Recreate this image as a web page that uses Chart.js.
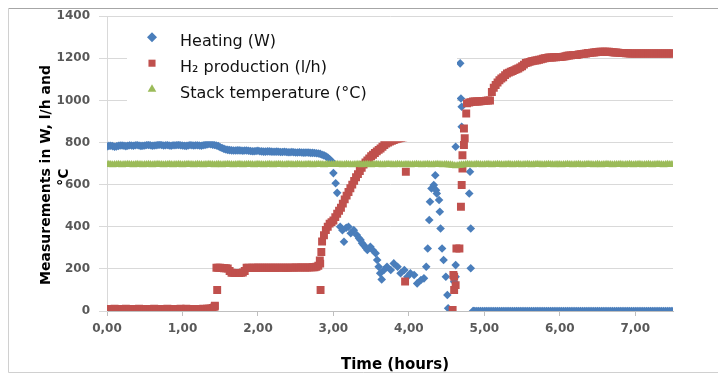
<!DOCTYPE html>
<html>
<head>
<meta charset="utf-8">
<script src="https://cdn.jsdelivr.net/npm/chart.js@4.4.0/dist/chart.umd.min.js"></script>
<style>
  body { margin: 0; background: #fff; }
  canvas { display: block; }
</style>
</head>
<body>
<canvas id="stack-chart" width="718" height="374"></canvas>
<script>
// Sampling grid in hours (one reading every 1.5 minutes), 20 per line = half an hour
const hours = [
  0.000, 0.025, 0.050, 0.075, 0.100, 0.125, 0.150, 0.175, 0.200, 0.225, 0.250, 0.275, 0.300, 0.325, 0.350, 0.375, 0.400, 0.425, 0.450, 0.475,
  0.500, 0.525, 0.550, 0.575, 0.600, 0.625, 0.650, 0.675, 0.700, 0.725, 0.750, 0.775, 0.800, 0.825, 0.850, 0.875, 0.900, 0.925, 0.950, 0.975,
  1.000, 1.025, 1.050, 1.075, 1.100, 1.125, 1.150, 1.175, 1.200, 1.225, 1.250, 1.275, 1.300, 1.325, 1.350, 1.375, 1.400, 1.425, 1.450, 1.475,
  1.500, 1.525, 1.550, 1.575, 1.600, 1.625, 1.650, 1.675, 1.700, 1.725, 1.750, 1.775, 1.800, 1.825, 1.850, 1.875, 1.900, 1.925, 1.950, 1.975,
  2.000, 2.025, 2.050, 2.075, 2.100, 2.125, 2.150, 2.175, 2.200, 2.225, 2.250, 2.275, 2.300, 2.325, 2.350, 2.375, 2.400, 2.425, 2.450, 2.475,
  2.500, 2.525, 2.550, 2.575, 2.600, 2.625, 2.650, 2.675, 2.700, 2.725, 2.750, 2.775, 2.800, 2.825, 2.850, 2.875, 2.900, 2.925, 2.950, 2.975,
  3.000, 3.025, 3.050, 3.075, 3.100, 3.125, 3.150, 3.175, 3.200, 3.225, 3.250, 3.275, 3.300, 3.325, 3.350, 3.375, 3.400, 3.425, 3.450, 3.475,
  3.500, 3.525, 3.550, 3.575, 3.600, 3.625, 3.650, 3.675, 3.700, 3.725, 3.750, 3.775, 3.800, 3.825, 3.850, 3.875, 3.900, 3.925, 3.950, 3.975,
  4.000, 4.025, 4.050, 4.075, 4.100, 4.125, 4.150, 4.175, 4.200, 4.225, 4.250, 4.275, 4.300, 4.325, 4.350, 4.375, 4.400, 4.425, 4.450, 4.475,
  4.500, 4.525, 4.550, 4.575, 4.600, 4.625, 4.650, 4.675, 4.700, 4.725, 4.750, 4.775, 4.800, 4.825, 4.850, 4.875, 4.900, 4.925, 4.950, 4.975,
  5.000, 5.025, 5.050, 5.075, 5.100, 5.125, 5.150, 5.175, 5.200, 5.225, 5.250, 5.275, 5.300, 5.325, 5.350, 5.375, 5.400, 5.425, 5.450, 5.475,
  5.500, 5.525, 5.550, 5.575, 5.600, 5.625, 5.650, 5.675, 5.700, 5.725, 5.750, 5.775, 5.800, 5.825, 5.850, 5.875, 5.900, 5.925, 5.950, 5.975,
  6.000, 6.025, 6.050, 6.075, 6.100, 6.125, 6.150, 6.175, 6.200, 6.225, 6.250, 6.275, 6.300, 6.325, 6.350, 6.375, 6.400, 6.425, 6.450, 6.475,
  6.500, 6.525, 6.550, 6.575, 6.600, 6.625, 6.650, 6.675, 6.700, 6.725, 6.750, 6.775, 6.800, 6.825, 6.850, 6.875, 6.900, 6.925, 6.950, 6.975,
  7.000, 7.025, 7.050, 7.075, 7.100, 7.125, 7.150, 7.175, 7.200, 7.225, 7.250, 7.275, 7.300, 7.325, 7.350, 7.375, 7.400, 7.425, 7.450, 7.475,
  7.500
];

// Heating power (W) on the grid; null where only the extra readings exist
const heatingW = [
  782, 784, 785, 783, 780, 782, 784, 786, 786, 785, 783, 785, 787, 786, 785, 787, 788, 786, 784, 785,
  786, 788, 789, 787, 785, 786, 787, 789, 790, 788, 786, 787, 788, 786, 785, 787, 787, 788, 789, 787,
  786, 785, 784, 786, 788, 787, 786, 787, 787, 786, 785, 787, 789, 791, 793, 792, 790, 788, 786, 783,
  778, 774, 770, 767, 765, 764, 763, 762, 762, 763, 763, 762, 761, 762, 762, 761, 760, 759, 759, 760,
  761, 759, 758, 757, 757, 758, 758, 757, 756, 756, 757, 756, 755, 755, 756, 755, 754, 754, 755, 754,
  753, 753, 754, 753, 752, 752, 753, 752, 751, 751, 750, 749, 748, 746, 742, 739, 735, 729, 720, 712,
  null, null, null, null, null, null, null, null, null, null, null, null, null, null, null, null, null, null, null, null,
  null, null, null, null, null, null, null, null, null, null, null, null, null, null, null, null, null, null, null, null,
  null, null, null, null, null, null, null, null, null, null, null, null, null, null, null, null, null, null, null, null,
  null, null, null, null, null, null, null, null, null, null, null, null, null, null, 0, 0, 0, 0, 0, 0,
  0, 0, 0, 0, 0, 0, 0, 0, 0, 0, 0, 0, 0, 0, 0, 0, 0, 0, 0, 0,
  0, 0, 0, 0, 0, 0, 0, 0, 0, 0, 0, 0, 0, 0, 0, 0, 0, 0, 0, 0,
  0, 0, 0, 0, 0, 0, 0, 0, 0, 0, 0, 0, 0, 0, 0, 0, 0, 0, 0, 0,
  0, 0, 0, 0, 0, 0, 0, 0, 0, 0, 0, 0, 0, 0, 0, 0, 0, 0, 0, 0,
  0, 0, 0, 0, 0, 0, 0, 0, 0, 0, 0, 0, 0, 0, 0, 0, 0, 0, 0, 0,
  0
];

// H2 production (l/h) on the grid
const h2Flow = [
  10, 9, 10, 10, 11, 10, 10, 9, 10, 10, 11, 10, 10, 10, 9, 10, 10, 11, 10, 10,
  10, 10, 9, 10, 10, 11, 10, 10, 9, 10, 10, 10, 11, 10, 10, 9, 10, 10, 10, 11,
  10, 10, 11, 10, 10, 10, 9, 10, 10, 10, 10, 11, 10, 11, 11, 12, 15, 20, 205, 205,
  205, 204, 203, 203, 202, 190, 182, 181, 180, 180, 180, 181, 183, 190, 205, 205, 204, 205, 205, 205,
  205, 205, 206, 206, 205, 205, 205, 206, 206, 205, 205, 206, 206, 206, 205, 205, 206, 206, 206, 206,
  207, 206, 206, 207, 207, 206, 206, 207, 207, 208, 208, 210, 215, 225, 330, 360, 385, 400, 415, 422,
  430, 446, 462, 476, 490, 510, 530, 548, 565, 583, 600, 618, 635, 650, 665, 680, 695, 705, 715, 725,
  735, 742, 750, 758, 765, 772, 780, 788, 795, 800, 805, 808, 812, 815, 818, 820, 822, 825, 828, 830,
  832, 834, 836, 838, 840, 842, 843, 845, 846, 848, 850, 851, 852, 854, 855, 857, 858, 859, 860, 861,
  862, null, null, null, null, null, null, null, null, null, null, null, 990, 992, 995, 995, 995, 995, 996, 997,
  998, 999, 1000, 1000, 1040, 1060, 1073, 1085, 1096, 1104, 1110, 1120, 1128, 1132, 1136, 1140, 1144, 1148, 1152, 1157,
  1162, 1170, 1178, 1180, 1183, 1186, 1188, 1190, 1191, 1193, 1195, 1198, 1200, 1202, 1204, 1204, 1204, 1205, 1205, 1206,
  1206, 1207, 1208, 1210, 1212, 1213, 1214, 1215, 1215, 1216, 1218, 1220, 1221, 1222, 1223, 1225, 1226, 1227, 1228, 1229,
  1230, 1231, 1231, 1231, 1231, 1231, 1231, 1230, 1229, 1228, 1228, 1227, 1226, 1225, 1225, 1224, 1224, 1223, 1223, 1223,
  1223, 1223, 1223, 1223, 1223, 1223, 1223, 1223, 1223, 1223, 1223, 1223, 1223, 1223, 1223, 1223, 1223, 1223, 1223, 1223,
  1223
];

// Stack temperature (°C) on the grid
const stackTemp = [
  695, 696, 695, 694, 695, 695, 696, 695, 694, 695, 695, 696, 695, 695, 694, 695, 696, 695, 695, 694,
  695, 695, 696, 695, 694, 695, 695, 696, 695, 695, 694, 695, 695, 696, 695, 694, 695, 695, 696, 695,
  694, 695, 695, 696, 695, 695, 694, 695, 696, 695, 695, 694, 695, 695, 696, 695, 695, 694, 695, 696,
  695, 694, 695, 695, 696, 695, 695, 694, 695, 695, 696, 695, 694, 695, 695, 696, 695, 695, 694, 695,
  696, 695, 695, 694, 695, 695, 696, 695, 694, 695, 695, 696, 695, 695, 694, 695, 696, 695, 695, 694,
  695, 696, 695, 695, 694, 695, 695, 696, 695, 694, 695, 695, 696, 695, 695, 694, 695, 696, 695, 695,
  695, 695, 696, 695, 695, 694, 695, 696, 695, 695, 694, 695, 695, 696, 695, 694, 695, 695, 696, 695,
  694, 695, 695, 696, 695, 695, 694, 695, 695, 696, 695, 695, 694, 695, 696, 695, 695, 694, 695, 695,
  695, 694, 695, 695, 696, 695, 695, 694, 695, 695, 696, 695, 694, 695, 695, 696, 695, 695, 694, 695,
  695, 694, 693, 692, 690, 689, 690, 692, 693, 694, 695, 696, 695, 695, 694, 695, 696, 695, 695, 694,
  695, 695, 696, 695, 694, 695, 695, 696, 695, 695, 694, 695, 695, 696, 695, 694, 695, 695, 696, 695,
  694, 695, 695, 696, 695, 694, 695, 695, 696, 695, 695, 694, 695, 695, 696, 695, 695, 694, 695, 695,
  695, 694, 695, 695, 696, 695, 695, 694, 695, 695, 696, 695, 694, 695, 695, 696, 695, 695, 694, 695,
  696, 695, 694, 695, 695, 696, 695, 695, 694, 695, 695, 695, 696, 695, 694, 695, 695, 696, 695, 694,
  695, 695, 696, 695, 694, 695, 695, 696, 695, 694, 695, 695, 696, 695, 695, 694, 695, 696, 695, 695,
  695
];

// Extra readings in the unstable part of the run
const heatingExtraHours = [
  3.00, 3.03, 3.05, 3.09, 3.12, 3.14, 3.17, 3.20, 3.23, 3.27,
  3.31, 3.34, 3.36, 3.38, 3.40, 3.43, 3.45, 3.49, 3.52, 3.56,
  3.58, 3.60, 3.62, 3.64, 3.67, 3.71, 3.76, 3.80, 3.85, 3.89,
  3.94, 3.98, 4.02, 4.07, 4.11, 4.16, 4.20, 4.23, 4.25, 4.27,
  4.28, 4.30, 4.33, 4.35, 4.36, 4.37, 4.40, 4.41, 4.42, 4.44,
  4.46, 4.49, 4.51, 4.52, 4.56, 4.60, 4.62, 4.62, 4.62, 4.68,
  4.69, 4.70, 4.70, 4.80, 4.81, 4.82, 4.82, 4.86
];
const heatingExtraW = [
  655, 607, 561, 400, 384, 329, 395, 400, 369, 384,
  361, 345, 337, 322, 313, 300, 290, 305, 290, 274,
  242, 210, 179, 150, 195, 210, 195, 226, 210, 179,
  195, 163, 179, 171, 131, 147, 155, 210, 297, 432,
  519, 582, 598, 645, 574, 558, 527, 471, 392, 297,
  242, 163, 76, 13, 0, 139, 163, 218, 780, 1176,
  1009, 970, 875, 558, 661, 392, 203, 0
];
const h2ExtraHours = [
  1.43, 1.46, 2.82, 2.83, 2.84, 3.95, 3.96, 4.58, 4.59, 4.60,
  4.60, 4.62, 4.63, 4.67, 4.69, 4.70, 4.71, 4.71, 4.73, 4.74,
  4.73, 4.76, 4.77
];
const h2ExtraFlow = [
  25, 100, 240, 100, 280, 140, 661, 5, 171, 100,
  163, 123, 297, 297, 495, 598, 677, 740, 788, 820,
  867, 938, 986
];

const seriesLabels = ['Heating (W)', 'H\u2082 production (l/h)', 'Stack temperature (\u00b0C)'];
const seriesColors = ['#4a7ebb', '#c0504d', '#9bbb59'];
const seriesShapes = ['rectRot', 'rect', 'triangle'];

function toPoints(xs, ys) {
  return xs.map((x, i) => ({ x: x, y: ys[i] }));
}

const FONT = '"DejaVu Sans", sans-serif';

// frame, legend box and axis titles drawn by hand like the Excel original
const decorations = {
  id: 'decorations',
  beforeDraw(chart) {
    const ctx = chart.ctx;
    ctx.save();
    ctx.fillStyle = '#fff';
    ctx.fillRect(0, 0, chart.width, chart.height);
    ctx.strokeStyle = '#a6a6a6';
    ctx.lineWidth = 1;
    ctx.beginPath();
    ctx.moveTo(8, 8.5); ctx.lineTo(chart.width, 8.5);
    ctx.stroke();
    ctx.strokeStyle = '#d0d0d0';
    ctx.beginPath();
    ctx.moveTo(8.5, 8); ctx.lineTo(8.5, 372.5); ctx.lineTo(chart.width, 372.5);
    ctx.stroke();
    ctx.restore();
  },
  afterDatasetsDraw(chart) {
    const ctx = chart.ctx;
    const area = chart.chartArea;
    const bx = area.left + 20, by = area.top + 2;
    ctx.save();
    ctx.fillStyle = '#fff';
    ctx.fillRect(bx, by, 330, 123);
    ctx.font = '16px ' + FONT;
    ctx.textBaseline = 'middle';
    ctx.textAlign = 'left';
    for (let i = 0; i < seriesLabels.length; i++) {
      const my = by + 19 + i * 26;
      ctx.fillStyle = seriesColors[i];
      Chart.helpers.drawPoint(ctx, { pointStyle: seriesShapes[i], radius: 5, rotation: 0, borderWidth: 0 }, bx + 25, my);
      ctx.fillStyle = '#111';
      ctx.fillText(seriesLabels[i], bx + 53, my + 5);
    }
    ctx.restore();
  },
  afterDraw(chart) {
    const ctx = chart.ctx;
    ctx.save();
    ctx.fillStyle = '#000';
    ctx.textAlign = 'center';
    ctx.textBaseline = 'middle';
    ctx.font = 'bold 14px ' + FONT;
    ctx.translate(46, 175);
    ctx.rotate(-Math.PI / 2);
    ctx.fillText('Measurements in W, l/h and', 0, 0);
    ctx.restore();
    ctx.save();
    ctx.fillStyle = '#000';
    ctx.textAlign = 'center';
    ctx.textBaseline = 'middle';
    ctx.font = 'bold 14px ' + FONT;
    ctx.translate(64, 177);
    ctx.rotate(-Math.PI / 2);
    ctx.fillText('\u00b0C', 0, 0);
    ctx.restore();
    ctx.save();
    ctx.fillStyle = '#000';
    ctx.textAlign = 'center';
    ctx.textBaseline = 'alphabetic';
    ctx.font = 'bold 15px ' + FONT;
    ctx.fillText('Time (hours)', 395, 369);
    ctx.restore();
  }
};

const ctx = document.getElementById('stack-chart').getContext('2d');

const stackChart = new Chart(ctx, {
  type: 'scatter',
  data: {
    datasets: [{
      label: seriesLabels[0],
      data: toPoints(hours, heatingW).concat(toPoints(heatingExtraHours, heatingExtraW)),
      pointStyle: 'rectRot',
      pointRadius: 4.3,
      backgroundColor: seriesColors[0],
      borderColor: seriesColors[0],
      borderWidth: 0,
      order: 3
    }, {
      label: seriesLabels[1],
      data: toPoints(hours, h2Flow).concat(toPoints(h2ExtraHours, h2ExtraFlow)),
      pointStyle: 'rect',
      pointRadius: 5.6,
      backgroundColor: seriesColors[1],
      borderColor: seriesColors[1],
      borderWidth: 0,
      order: 2
    }, {
      label: seriesLabels[2],
      data: toPoints(hours, stackTemp),
      pointStyle: 'triangle',
      pointRadius: 4.7,
      backgroundColor: seriesColors[2],
      borderColor: seriesColors[2],
      borderWidth: 0,
      order: 1
    }]
  },
  options: {
    responsive: false,
    animation: false,
    layout: { padding: { left: 0, right: 45, top: 16, bottom: 0 } },
    plugins: {
      legend: { display: false },
      tooltip: { enabled: false }
    },
    scales: {
      x: {
        type: 'linear',
        min: 0,
        max: 7.5,
        afterFit: (scale) => { scale.height = 63; },
        grid: { drawOnChartArea: false, tickLength: 5, color: '#bfbfbf' },
        border: { color: '#bfbfbf' },
        ticks: {
          stepSize: 1,
          includeBounds: false,
          maxRotation: 0,
          padding: 6,
          color: '#595959',
          font: { family: FONT, size: 12, weight: 'bold' },
          callback: (v) => v.toFixed(2).replace('.', ',')
        }
      },
      y: {
        min: 0,
        max: 1400,
        afterFit: (scale) => { scale.width = 107; },
        grid: { color: '#d9d9d9', tickLength: 8 },
        border: { color: '#d9d9d9' },
        ticks: {
          stepSize: 200,
          padding: 9,
          color: '#595959',
          font: { family: FONT, size: 12, weight: 'bold' },
          callback: (v) => String(v)
        }
      }
    }
  },
  plugins: [decorations]
});
</script>
</body>
</html>
